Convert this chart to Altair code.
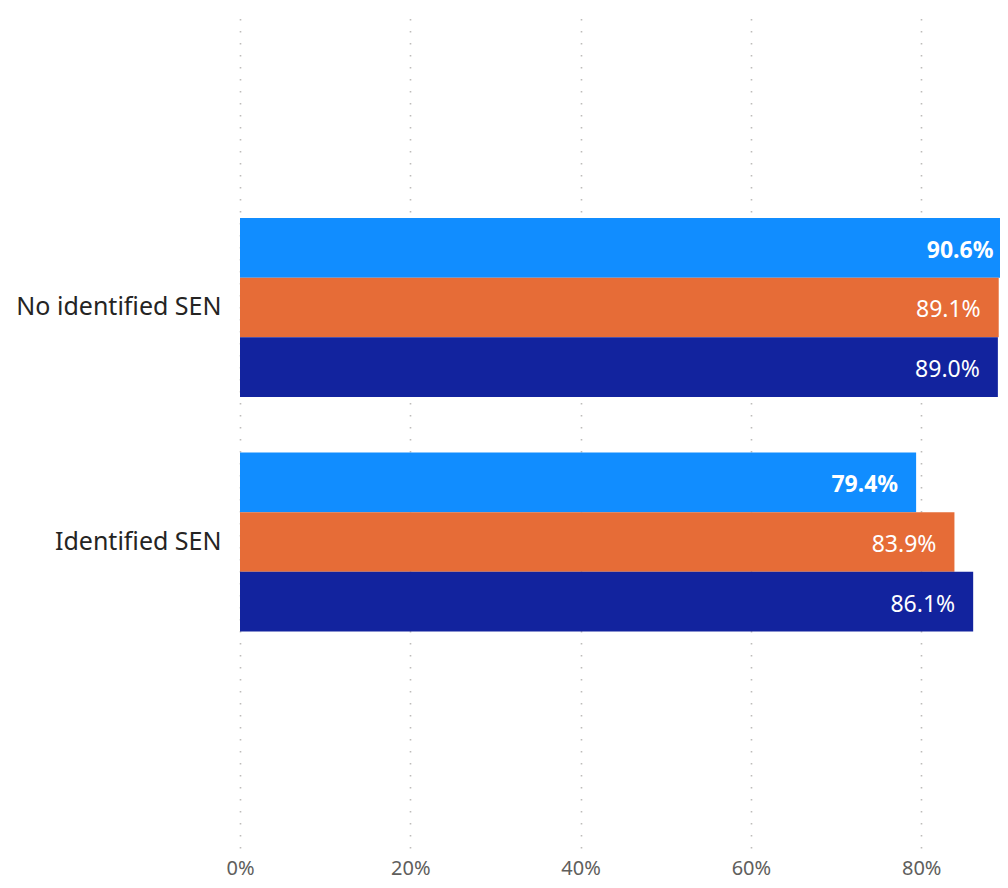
import altair as alt
import pandas as pd

categories = ["No identified SEN", "Identified SEN"]
series = ["Series 1", "Series 2", "Series 3"]
values_series1 = [90.6, 79.4]
values_series2 = [89.1, 83.9]
values_series3 = [89.0, 86.1]
colors = ["#118DFF", "#E66C37", "#12239E"]
x_ticks = [0, 20, 40, 60, 80]

rows = []
for i, c in enumerate(categories):
    for s, vals in zip(series, [values_series1, values_series2, values_series3]):
        rows.append({"category": c, "series": s, "value": vals[i]})
df = pd.DataFrame(rows)

FONT = "Noto Sans"

y_scale = alt.Scale(paddingInner=0.237, paddingOuter=0.9096, align=0.4923)
yoff_enc = alt.YOffset("series:N", sort=series, scale=alt.Scale(paddingInner=0, paddingOuter=0))
x_scale = alt.Scale(domain=[0, 89.25], nice=False, zero=True)

bars = alt.Chart(df).mark_bar(clip=True).encode(
    x=alt.X("value:Q", scale=x_scale, title=None,
            axis=alt.Axis(values=x_ticks, labelExpr="datum.value + '%'",
                          labelFontSize=20, labelColor="#605E5C", labelFont=FONT,
                          labelPadding=10, ticks=False, domain=False, labelFlush=False,
                          grid=True, gridColor="#BEBCBA", gridDash=[1.5, 10.5],
                          gridWidth=1.6)),
    y=alt.Y("category:N", sort=categories, title=None, scale=y_scale,
            axis=alt.Axis(labelFontSize=25, labelColor="#252423", labelFont=FONT,
                          labelPadding=19, ticks=False, domain=False, grid=False,
                          labelLimit=300)),
    yOffset=yoff_enc,
    color=alt.Color("series:N", sort=series,
                    scale=alt.Scale(domain=series, range=colors), legend=None),
)

base_text = alt.Chart(df).transform_calculate(
    label="format(datum.value, '.1f') + '%'"
).encode(
    x=alt.X("value:Q", scale=x_scale),
    y=alt.Y("category:N", sort=categories, scale=y_scale),
    yOffset=yoff_enc,
    text="label:N",
)

bold_text = base_text.transform_filter(alt.datum.series == "Series 1").mark_text(
    align="right", baseline="middle", dx=-18, dy=3, color="white",
    fontSize=23, fontWeight="bold", font=FONT)
norm_text = base_text.transform_filter(alt.datum.series != "Series 1").mark_text(
    align="right", baseline="middle", dx=-18, dy=3, color="white",
    fontSize=23, font=FONT)

chart = alt.layer(bars, bold_text, norm_text).properties(
    width=760, height=840,
    padding={"left": 232, "top": 0, "right": 0, "bottom": 32},
    autosize=alt.AutoSizeParams(type="none"),
    background="white",
).configure_view(strokeWidth=0, strokeOpacity=0).configure_axis(domain=False)

chart.save("out.html", embed_options={"renderer": "svg", "actions": False})
